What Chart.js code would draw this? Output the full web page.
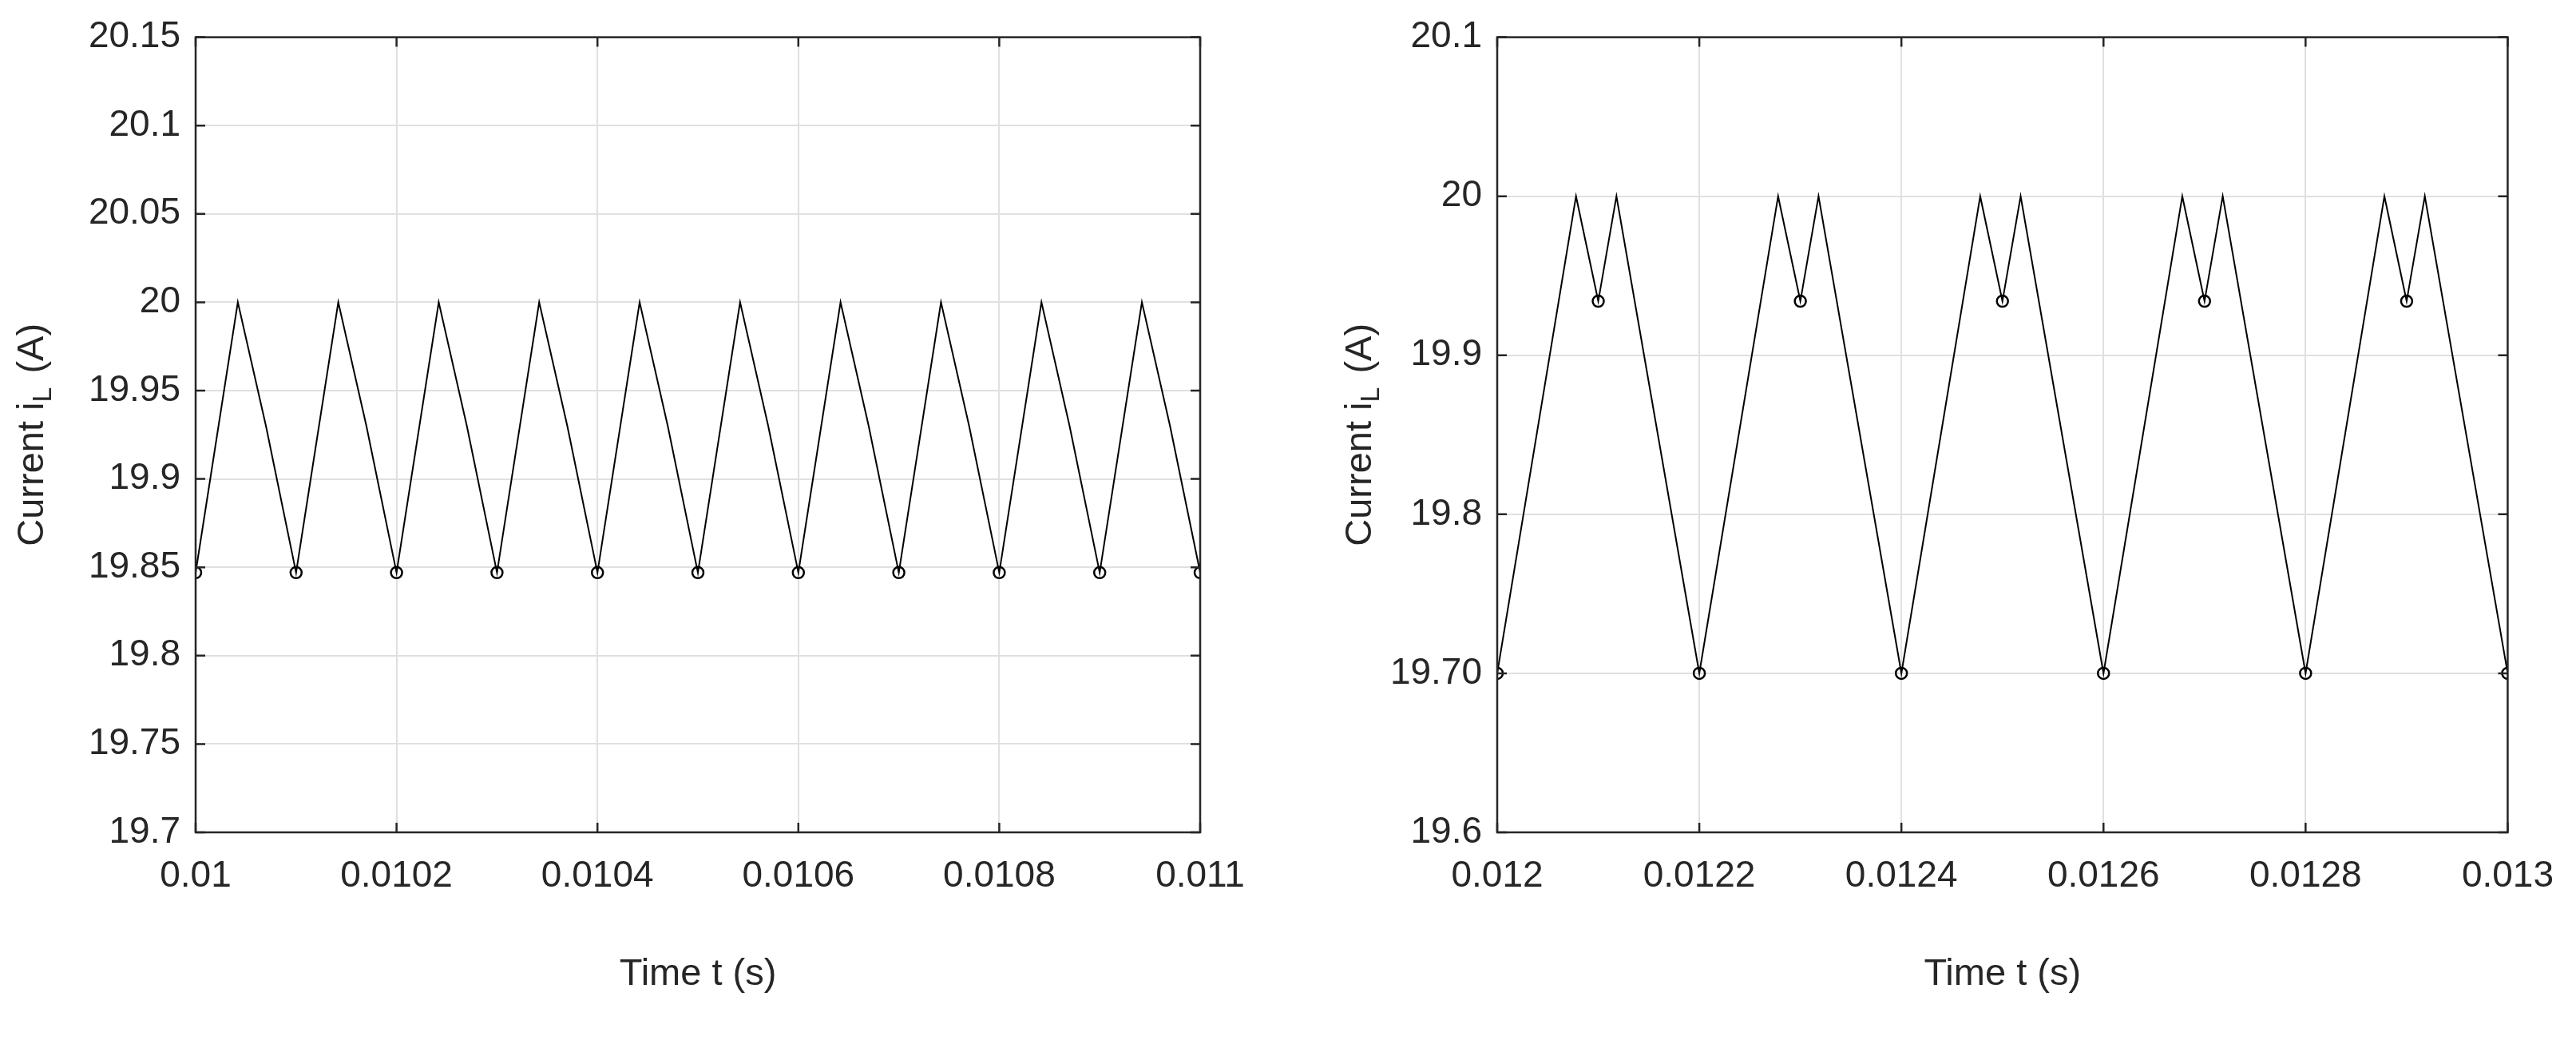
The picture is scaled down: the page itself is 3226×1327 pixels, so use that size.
<!DOCTYPE html>
<html><head><meta charset="utf-8">
<script src="https://cdn.jsdelivr.net/npm/chart.js@4"></script>
<style>
body{margin:0;background:#fff;width:3226px;height:1327px;position:relative;overflow:hidden}
canvas{position:absolute;top:0}
.cap{position:absolute;top:1360px;font-family:"Liberation Serif",serif;font-weight:bold;font-size:64px;color:#000;transform:translateX(-50%)}
</style></head><body>
<canvas id="ca" width="1613" height="1327" style="left:0"></canvas>
<canvas id="cb" width="1613" height="1327" style="left:1613px"></canvas>
<div class="cap" style="left:815px">(a)</div>
<div class="cap" style="left:2461px">(b)</div>
<script>
// ---- data (a) ----
const timeA = [0.01000,0.010042,0.01007,0.01010,0.010142,0.01017,0.01020,0.010242,0.01027,0.01030,0.010342,0.01037,0.01040,0.010442,0.01047,0.01050,0.010542,0.01057,0.01060,0.010642,0.01067,0.01070,0.010742,0.01077,0.01080,0.010842,0.01087,0.01090,0.010942,0.01097,0.01100];
const currentA = [19.847,20.0,19.93,19.847,20.0,19.93,19.847,20.0,19.93,19.847,20.0,19.93,19.847,20.0,19.93,19.847,20.0,19.93,19.847,20.0,19.93,19.847,20.0,19.93,19.847,20.0,19.93,19.847,20.0,19.93,19.847];
const markTimeA = [0.0100,0.0101,0.0102,0.0103,0.0104,0.0105,0.0106,0.0107,0.0108,0.0109,0.0110];
const markCurA = [19.847,19.847,19.847,19.847,19.847,19.847,19.847,19.847,19.847,19.847,19.847];
const xTicksA = [0.01,0.0102,0.0104,0.0106,0.0108,0.011];
const xLabelsA = ['0.01','0.0102','0.0104','0.0106','0.0108','0.011'];
const yTicksA = [19.7,19.75,19.8,19.85,19.9,19.95,20,20.05,20.1,20.15];
const yLabelsA = ['19.7','19.75','19.8','19.85','19.9','19.95','20','20.05','20.1','20.15'];
// ---- data (b) ----
const timeB = [0.0120,0.012078,0.0121,0.012118,0.0122,0.012278,0.0123,0.012318,0.0124,0.012478,0.0125,0.012518,0.0126,0.012678,0.0127,0.012718,0.0128,0.012878,0.0129,0.012918,0.0130];
const currentB = [19.7,20.0,19.934,20.0,19.7,20.0,19.934,20.0,19.7,20.0,19.934,20.0,19.7,20.0,19.934,20.0,19.7,20.0,19.934,20.0,19.7];
const markTimeB = [0.0120,0.0121,0.0122,0.0123,0.0124,0.0125,0.0126,0.0127,0.0128,0.0129,0.0130];
const markCurB = [19.7,19.934,19.7,19.934,19.7,19.934,19.7,19.934,19.7,19.934,19.7];
const xTicksB = [0.012,0.0122,0.0124,0.0126,0.0128,0.013];
const xLabelsB = ['0.012','0.0122','0.0124','0.0126','0.0128','0.013'];
const yTicksB = [19.6,19.7,19.8,19.9,20.0,20.1];
const yLabelsB = ['19.6','19.70','19.8','19.9','20','20.1'];

const FONT = '"Liberation Sans", Arial, sans-serif';
const TXT = '#262626';

function pts(xs, ys){ return xs.map((x,i)=>({x:x,y:ys[i]})); }

function makeChart(id, t, c, mt, mc, xt, xl, yt, yl, pad, titleX){
  const frame = {
    id:'frame',
    afterDraw(ch){
      const g=ch.ctx, a=ch.chartArea, xs=ch.scales.x, ys=ch.scales.y;
      g.save();
      g.strokeStyle=TXT; g.lineWidth=2.5;
      g.beginPath();
      xt.forEach(v=>{const p=xs.getPixelForValue(v); g.moveTo(p,a.bottom); g.lineTo(p,a.bottom-12); g.moveTo(p,a.top); g.lineTo(p,a.top+12);});
      yt.forEach(v=>{const p=ys.getPixelForValue(v); g.moveTo(a.left,p); g.lineTo(a.left+12,p); g.moveTo(a.right,p); g.lineTo(a.right-12,p);});
      g.stroke();
      g.strokeRect(a.left,a.top,a.right-a.left,a.bottom-a.top);
      g.fillStyle=TXT; g.textBaseline='middle';
      g.font='47px '+FONT; g.textAlign='center';
      g.fillText('Time t (s)', (a.left+a.right)/2, 1220);
      // y title with subscript
      g.translate(titleX,(a.top+a.bottom)/2); g.rotate(-Math.PI/2);
      const p1='Current i', p3=' (A)';
      g.font='47px '+FONT; const w1=g.measureText(p1).width, w3=g.measureText(p3).width;
      g.font='34px '+FONT; const w2=g.measureText('L').width;
      const tot=w1+w2+w3+4; let x=-tot/2;
      g.textAlign='left';
      g.font='47px '+FONT; g.fillText(p1,x,0); x+=w1;
      g.font='34px '+FONT; g.fillText('L',x,14); x+=w2+4;
      g.font='47px '+FONT; g.fillText(p3,x,0);
      g.restore();
    }
  };
  return new Chart(document.getElementById(id),{
    type:'scatter',
    data:{datasets:[
      {data:pts(t,c),showLine:true,borderColor:'#000',borderWidth:2,pointRadius:0,tension:0},
      {data:pts(mt,mc),showLine:false,pointStyle:'circle',pointRadius:7,borderColor:'#000',borderWidth:2.5,backgroundColor:'rgba(0,0,0,0)'}
    ]},
    options:{
      responsive:false,animation:false,devicePixelRatio:1,
      layout:{padding:pad},
      plugins:{legend:{display:false},tooltip:{enabled:false}},
      scales:{
        x:{type:'linear',min:xt[0],max:xt[xt.length-1],
          afterBuildTicks(s){s.ticks=xt.map(v=>({value:v}));},
          afterFit(s){s.height=1327-1042-pad.bottom;},
          grid:{color:'#e0e0e0',lineWidth:2,drawTicks:false},border:{display:false},
          ticks:{padding:28,color:TXT,font:{family:FONT,size:46},maxRotation:0,autoSkip:false,
            callback:(v)=>{const i=xt.findIndex(q=>Math.abs(q-v)<1e-9);return i>=0?xl[i]:'';}}},
        y:{type:'linear',min:yt[0],max:yt[yt.length-1],
          afterBuildTicks(s){s.ticks=yt.map(v=>({value:v}));},
          afterFit(s){s.width=pad.yw;},
          grid:{color:'#e0e0e0',lineWidth:2,drawTicks:false},border:{display:false},
          ticks:{padding:19,color:TXT,font:{family:FONT,size:46},autoSkip:false,
            callback:(v)=>{const i=yt.findIndex(q=>Math.abs(q-v)<1e-9);return i>=0?yl[i]:'';}}}
      }
    },
    plugins:[frame]
  });
}
makeChart('ca',timeA,currentA,markTimeA,markCurA,xTicksA,xLabelsA,yTicksA,yLabelsA,{left:0,top:42,right:110,bottom:0,yw:245},41);
makeChart('cb',timeB,currentB,markTimeB,markCurB,xTicksB,xLabelsB,yTicksB,yLabelsB,{left:0,top:42,right:69,bottom:0,yw:262},91);
</script></body></html>
